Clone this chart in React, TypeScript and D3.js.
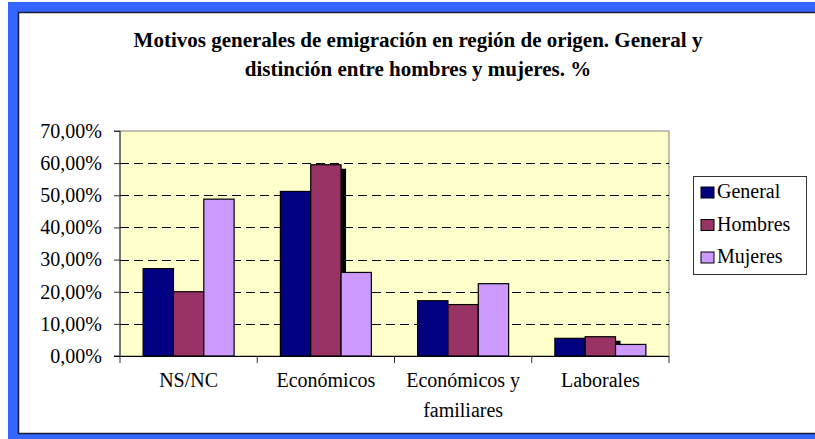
import React, { useEffect, useRef } from "react";
import * as d3 from "d3";

const categories: string[][] = [["NS/NC"], ["Económicos"], ["Económicos y", "familiares"], ["Laborales"]];
const seriesNames = ["General", "Hombres", "Mujeres"];
const seriesColors = ["#000080", "#993366", "#CC99FF"];
const general = [27.2, 51.2, 17.2, 5.5];
const hombres = [20.0, 59.5, 16.0, 6.0];
const mujeres = [48.8, 26.0, 22.5, 3.6];
const yTicks = [0, 10, 20, 30, 40, 50, 60, 70];
const titleLines = [
  "Motivos generales de emigración en región de origen. General y",
  "distinción entre hombres y mujeres. %",
];

const W = 815;
const H = 439;
const plot = { left: 120, right: 669, top: 131, bottom: 356 };
const FONT = "Liberation Serif";

export default function App() {
  const ref = useRef<SVGSVGElement>(null);

  useEffect(() => {
    const svg = d3.select(ref.current);
    svg.selectAll("*").remove();

    // frame
    svg.append("rect").attr("x", 8).attr("y", 2).attr("width", W - 8).attr("height", H - 2).attr("fill", "#3366FF");
    svg
      .append("rect")
      .attr("x", 18.5)
      .attr("y", 12.5)
      .attr("width", W + 20)
      .attr("height", 421)
      .attr("fill", "#FFFFFF")
      .attr("stroke", "#1a1a33")
      .attr("stroke-width", 1.5);

    // title
    svg
      .append("g")
      .selectAll("text")
      .data(titleLines)
      .join("text")
      .attr("x", 418)
      .attr("y", (_, i) => 47 + i * 29)
      .attr("text-anchor", "middle")
      .style("font-family", FONT)
      .attr("font-weight", "bold")
      .attr("font-size", 21)
      .text((d) => d);

    const x0 = d3.scaleBand<number>().domain(d3.range(categories.length)).range([plot.left, plot.right]).paddingInner(0).paddingOuter(0);
    const groupW = x0.bandwidth() * 0.663;
    const x1 = d3.scaleBand<number>().domain(d3.range(seriesNames.length)).range([0, groupW]);
    const y = d3.scaleLinear().domain([0, 70]).range([plot.bottom, plot.top]);

    // plot background
    svg
      .append("rect")
      .attr("x", plot.left)
      .attr("y", plot.top)
      .attr("width", plot.right - plot.left)
      .attr("height", plot.bottom - plot.top)
      .attr("fill", "#FFFFCC")
      .attr("stroke", "#808080")
      .attr("stroke-width", 1);

    // grid
    svg
      .append("g")
      .selectAll("line")
      .data(yTicks.filter((t) => t > 0 && t < 70))
      .join("line")
      .attr("x1", plot.left)
      .attr("x2", plot.right)
      .attr("y1", (d) => Math.round(y(d)) + 0.5)
      .attr("y2", (d) => Math.round(y(d)) + 0.5)
      .attr("stroke", "#000")
      .attr("stroke-width", 1)
      .attr("stroke-dasharray", "9,5");

    // bars
    const series = [general, hombres, mujeres];
    const gx = (i: number) => (x0(i) as number) + (x0.bandwidth() - groupW) / 2;
    const barsG = svg.append("g");
    series.forEach((vals, s) => {
      if (s === 1) {
        barsG
          .append("g")
          .selectAll("rect")
          .data(vals)
          .join("rect")
          .attr("x", (_, i) => gx(i) + (x1(s) as number) + 5)
          .attr("y", (d) => y(d) + 4)
          .attr("width", x1.bandwidth())
          .attr("height", (d) => plot.bottom - y(d) - 4)
          .attr("fill", "#000");
      }
      barsG
        .append("g")
        .selectAll("rect")
        .data(vals)
        .join("rect")
        .attr("x", (_, i) => gx(i) + (x1(s) as number))
        .attr("y", (d) => y(d))
        .attr("width", x1.bandwidth())
        .attr("height", (d) => plot.bottom - y(d))
        .attr("fill", seriesColors[s])
        .attr("stroke", "#000")
        .attr("stroke-width", 1.2);
    });

    // y axis
    const locale = d3.formatLocale({ decimal: ",", thousands: ".", grouping: [3], currency: ["", "€"] });
    const fmt = locale.format(".2f");
    const yAxis = d3
      .axisLeft(y)
      .tickValues(yTicks)
      .tickSize(6)
      .tickPadding(12)
      .tickFormat((d) => fmt(d as number) + "%");
    const ya = svg.append("g").attr("transform", `translate(${plot.left},0)`).call(yAxis);
    ya.attr("font-family", null).attr("font-size", null);
    ya.select(".domain").attr("stroke", "#333").attr("d", `M-6,${plot.top}H0V${plot.bottom}H-6`);
    ya.selectAll("line").attr("stroke", "#333");
    ya.selectAll("text").style("font-family", FONT).attr("font-size", 20).attr("fill", "#000");

    // x axis
    const bounds = d3.range(categories.length + 1).map((i) => plot.left + i * x0.bandwidth());
    svg
      .append("line")
      .attr("x1", plot.left - 6)
      .attr("x2", plot.right)
      .attr("y1", plot.bottom + 0.5)
      .attr("y2", plot.bottom + 0.5)
      .attr("stroke", "#000");
    svg
      .append("g")
      .selectAll("line")
      .data(bounds)
      .join("line")
      .attr("x1", (d) => d)
      .attr("x2", (d) => d)
      .attr("y1", plot.bottom)
      .attr("y2", plot.bottom + 7)
      .attr("stroke", "#333");

    const catG = svg.append("g");
    categories.forEach((lines, i) => {
      const cx = (x0(i) as number) + x0.bandwidth() / 2;
      catG
        .append("text")
        .attr("x", cx)
        .attr("y", 387)
        .attr("text-anchor", "middle")
        .style("font-family", FONT)
        .attr("font-size", 20)
        .selectAll("tspan")
        .data(lines)
        .join("tspan")
        .attr("x", cx)
        .attr("dy", (_, j) => (j === 0 ? 0 : 30))
        .text((d) => d);
    });

    // legend
    const lg = svg.append("g");
    lg.append("rect")
      .attr("x", 693.5)
      .attr("y", 176.5)
      .attr("width", 113)
      .attr("height", 98)
      .attr("fill", "#FFFFFF")
      .attr("stroke", "#333")
      .attr("stroke-width", 1);
    seriesNames.forEach((name, i) => {
      const yy = 187 + i * 32.5;
      lg.append("rect")
        .attr("x", 701)
        .attr("y", yy)
        .attr("width", 13)
        .attr("height", 11)
        .attr("fill", seriesColors[i])
        .attr("stroke", "#000")
        .attr("stroke-width", 1);
      lg.append("text")
        .attr("x", 717)
        .attr("y", yy + 11)
        .style("font-family", FONT)
        .attr("font-size", 20)
        .text(name);
    });
  }, []);

  return (
    <svg
      ref={ref}
      width={W}
      height={H}
      style={{ position: "absolute", left: 0, top: 0, background: "#fff" }}
    />
  );
}
